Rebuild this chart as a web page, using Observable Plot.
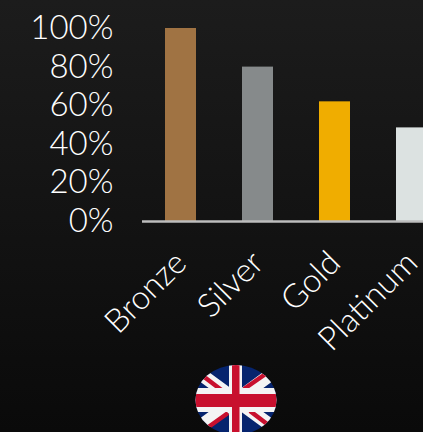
<!DOCTYPE html>
<html>
<head>
<meta charset="utf-8">
<script src="https://cdn.jsdelivr.net/npm/d3@7"></script>
<script src="https://cdn.jsdelivr.net/npm/@observablehq/plot@0.6"></script>
<style>
  html, body { margin: 0; padding: 0; width: 423px; height: 432px; overflow: hidden; }
  body { background: linear-gradient(#1c1c1c, #0a0a0a); position: relative; }
  #chart svg { display: block; background: transparent; }
  #flag { position: absolute; left: 195px; top: 365px; filter: blur(0.6px); }
</style>
</head>
<body>
<div id="chart"></div>
<svg id="flag" width="82" height="70" viewBox="0 0 82 70">
  <defs><clipPath id="oval"><ellipse cx="41" cy="35" rx="40.5" ry="35"/></clipPath></defs>
  <g clip-path="url(#oval)">
    <rect width="82" height="70" fill="#06246e"/>
    <path d="M0 5 L82 65 M82 5 L0 65" stroke="#f4f4f4" stroke-width="13"/>
    <path d="M4 8 L33 30 M49 24 L72 8 M55 46 L76 62 M12 63 L33 48" stroke="#c8102e" stroke-width="4.5"/>
    <rect x="34" width="13" height="70" fill="#f4f4f4"/>
    <rect y="23" width="82" height="24" fill="#f4f4f4"/>
    <rect x="37" width="7.5" height="70" fill="#c8102e"/>
    <rect y="29" width="82" height="13" fill="#c8102e"/>
  </g>
</svg>
<script>
const medals = ["Bronze", "Silver", "Gold", "Platinum"];
const shares = [100, 80, 62, 48.5];
const medalColors = ["#a07343", "#868a8b", "#f0ad00", "#dce2e1"];
const percentTicks = [0, 20, 40, 60, 80, 100];

const rows = medals.map((medal, i) => ({medal, share: shares[i], color: medalColors[i]}));
const textFont = "Lato, sans-serif";

const chart = Plot.plot({
  width: 423,
  height: 432,
  marginLeft: 142,
  marginRight: -27,
  marginTop: 28,
  marginBottom: 211,
  style: {background: "transparent", color: "#ffffff", fontFamily: textFont, overflow: "hidden"},
  x: {domain: medals, paddingInner: 0.6, paddingOuter: 0.3},
  y: {domain: [0, 100]},
  marks: [
    Plot.axisY({
      ticks: percentTicks,
      tickFormat: d => d + "%",
      tickSize: 0,
      tickPadding: 29,
      fontSize: 33,
      fontWeight: 300,
      label: null
    }),
    Plot.axisX({
      tickSize: 0,
      tickRotate: -45,
      tickPadding: 36,
      fontSize: 33,
      fontWeight: 300,
      label: null
    }),
    Plot.barY(rows, {x: "medal", y: "share", fill: "color"}),
    Plot.ruleY([0], {stroke: "#bdbdbd", strokeWidth: 2.3})
  ]
});
document.getElementById("chart").appendChild(chart);
</script>
</body>
</html>
